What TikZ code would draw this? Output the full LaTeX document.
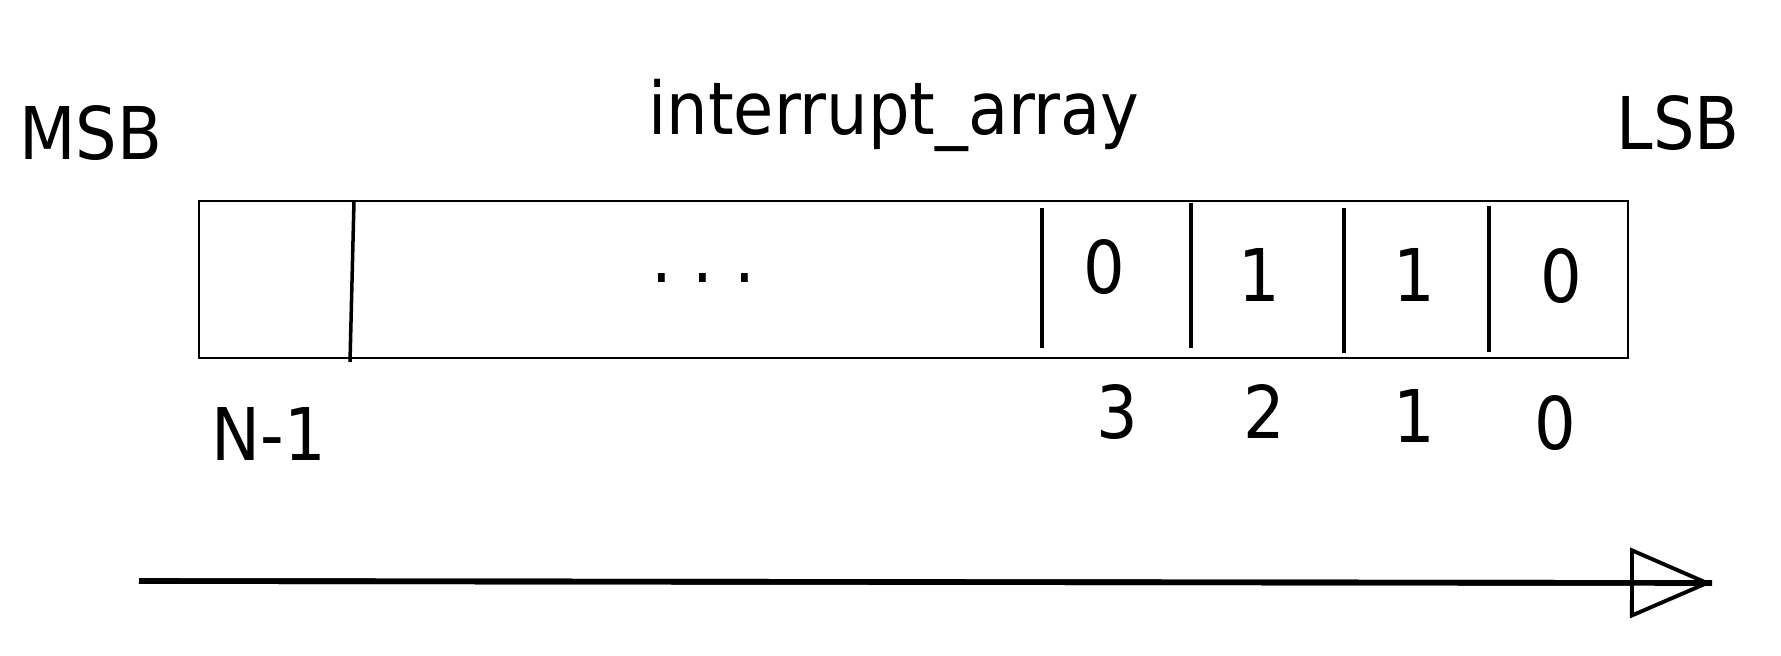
\documentclass[tikz,border=0pt]{standalone}
\usepackage{fontspec}
\setmainfont{DejaVu Sans Condensed}
\usetikzlibrary{arrows.meta}

\tikzset{
  lbl/.style={anchor=base, inner sep=0pt, font=\fontsize{20.7}{24}\selectfont},
  bitsep/.style={line width=1pt},
}

\begin{document}
\begin{tikzpicture}[x=1cm, y=1cm]
			\useasboundingbox (0,0) rectangle (17.81,-6.55);
			% the array
			\draw[line width=0.5pt] (1.99,-2.01) rectangle (16.28,-3.58);
			\draw[bitsep] (3.54,-2.01)--(3.50,-3.62);
			\draw[bitsep] (10.42,-2.08)--(10.42,-3.48);
			\draw[bitsep] (11.91,-2.03)--(11.91,-3.48);
			\draw[bitsep] (13.44,-2.08)--(13.44,-3.53);
			\draw[bitsep] (14.89,-2.06)--(14.89,-3.52);
			% labels
			\node[lbl] (title) at (8.94,-1.34) {interrupt\_array};
			\node[lbl] (msb) at (0.91,-1.59) {MSB};
			\node[lbl] (lsb) at (16.78,-1.49) {LSB};
			\node[lbl] (dots) at (7.03,-2.82) {.\ .\ .};
			\node[lbl] (bitthree) at (11.04,-2.93) {0};
			\node[lbl] (bittwo) at (12.59,-3.01) {1};
			\node[lbl] (bitone) at (14.14,-3.01) {1};
			\node[lbl] (bitzero) at (15.61,-3.02) {0};
			\node[lbl] (idxn) at (2.69,-4.60) {N-1};
			\node[lbl] (idxthree) at (11.17,-4.38) {3};
			\node[lbl] (idxtwo) at (12.64,-4.38) {2};
			\node[lbl] (idxone) at (14.14,-4.42) {1};
			\node[lbl] (idxzero) at (15.55,-4.49) {0};
			% direction
			\coordinate (arrfrom) at (1.39,-5.81);
			\coordinate (arrto) at (17.12,-5.83);
			\draw[line width=1.6pt] (arrfrom)--(arrto);
			\draw[line width=1.6pt, -{Triangle[open, length=0.82cm, width=0.70cm, line width=1.1pt]}] (arrfrom)--(arrto);
		\end{tikzpicture}
\end{document}
